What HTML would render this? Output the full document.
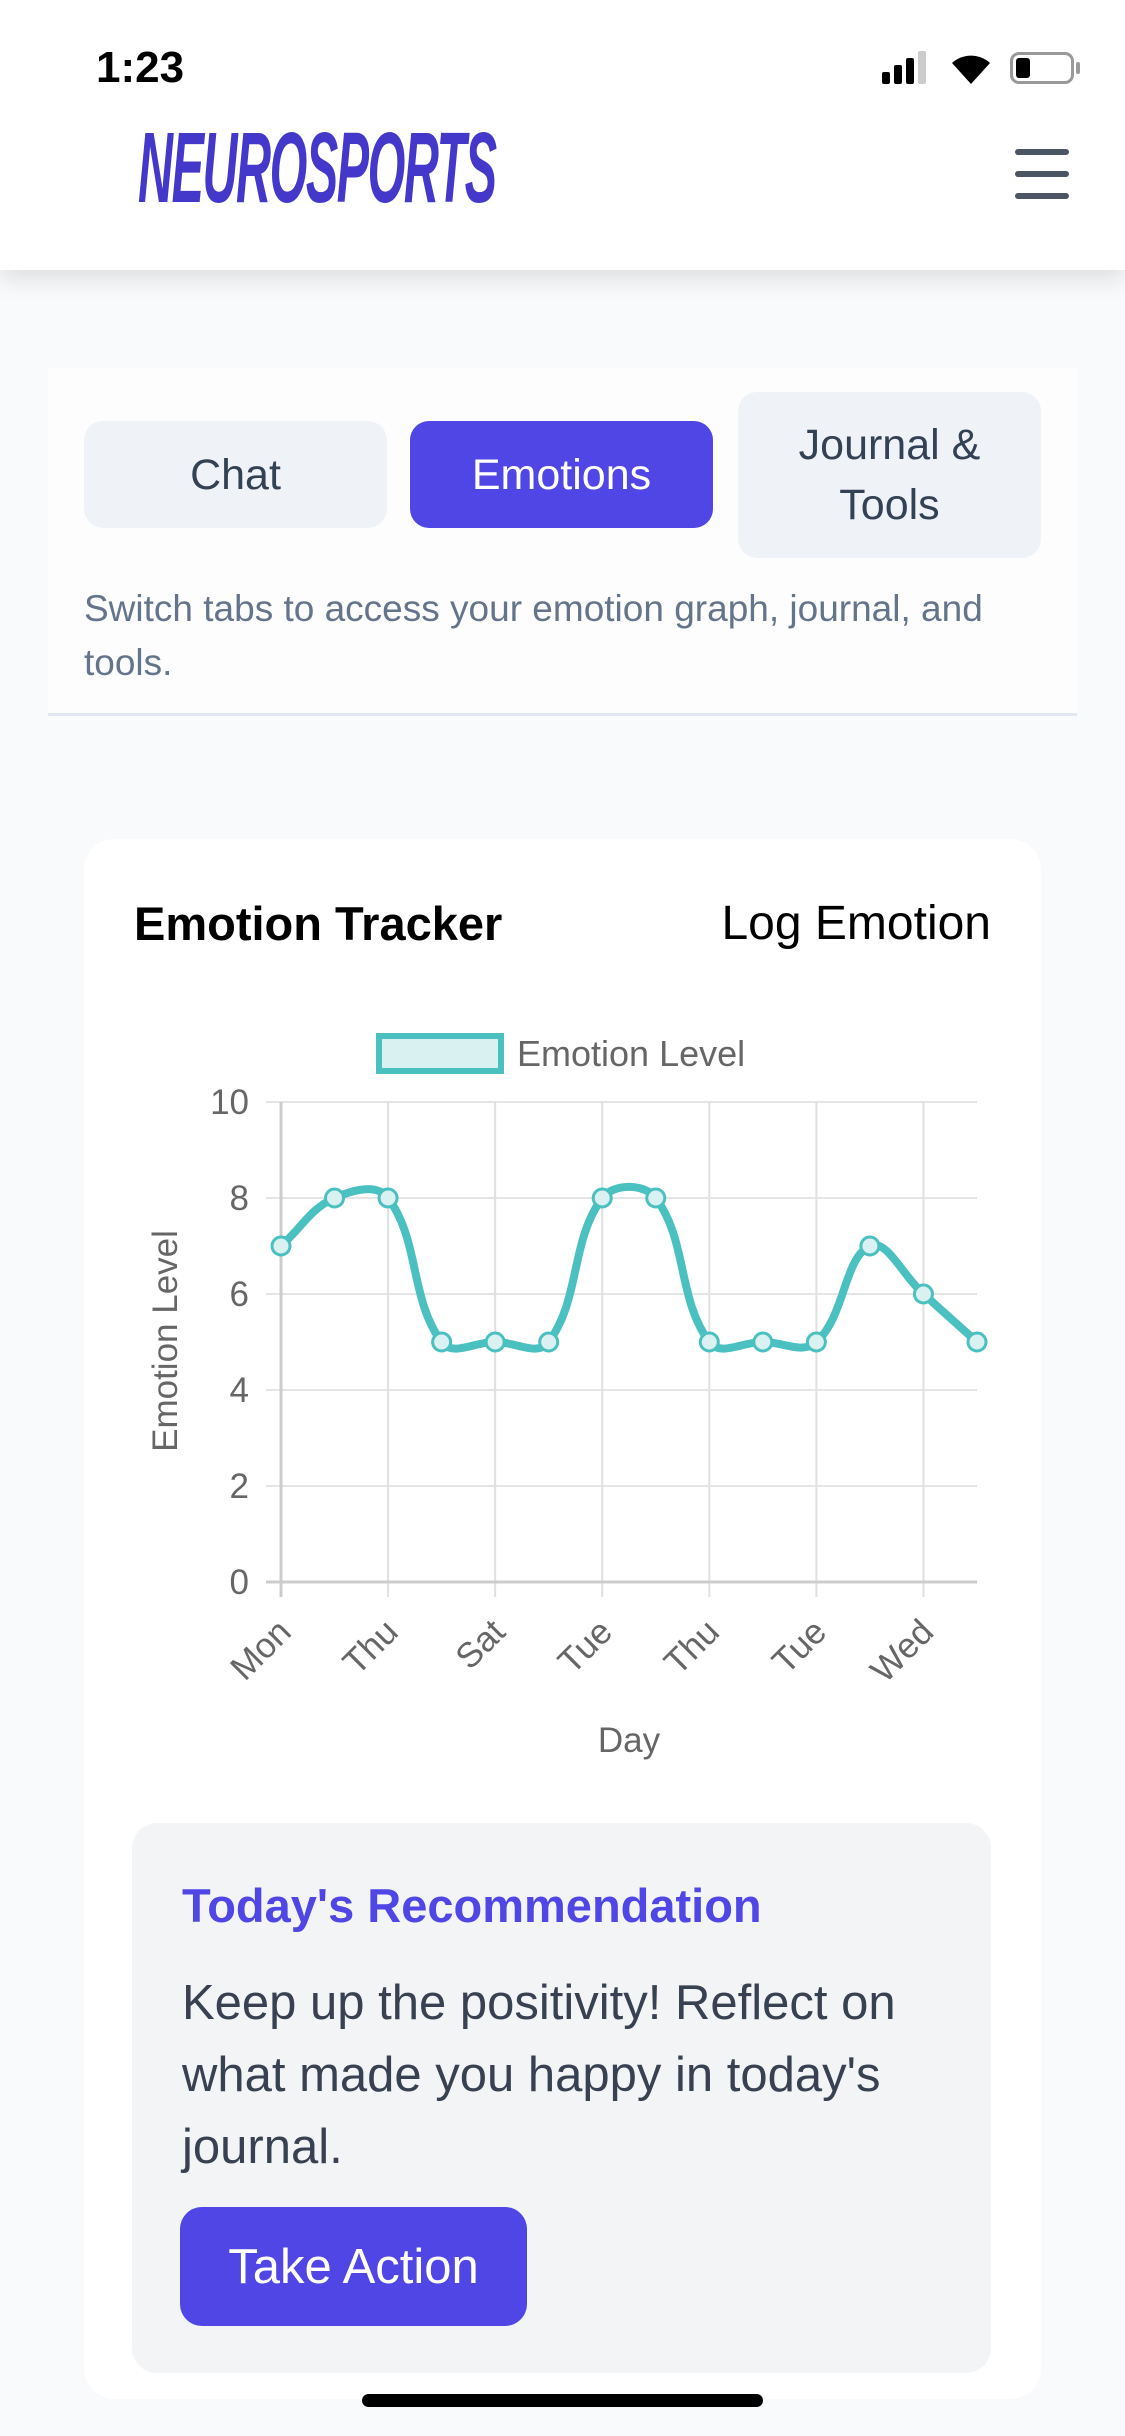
<!DOCTYPE html>
<html><head><meta charset="utf-8">
<style>
*{margin:0;padding:0;box-sizing:border-box}
body{width:1125px;height:2436px;background:#f8fafc;font-family:"Liberation Sans",sans-serif;position:relative;overflow:hidden}
.a{position:absolute}
.btn{position:absolute;border-radius:19px;display:flex;align-items:center;justify-content:center;text-align:center;font-size:43px;color:#334155;background:#eff3f8;line-height:60px}
</style></head><body>
<div class="a" style="left:0;top:0;width:1125px;height:270px;background:#fff;box-shadow:0 8px 24px rgba(0,0,0,0.12)"></div>
<div class="a" style="left:96px;top:43px;font-size:44px;font-weight:bold;color:#000">1:23</div>
<div class="a" style="left:882px;top:72px;width:8px;height:12px;background:#000;border-radius:2px"></div>
<div class="a" style="left:894px;top:65px;width:8px;height:19px;background:#000;border-radius:2px"></div>
<div class="a" style="left:906px;top:58px;width:8px;height:26px;background:#000;border-radius:2px"></div>
<div class="a" style="left:918px;top:51px;width:8px;height:33px;background:#ccc;border-radius:2px"></div>
<svg class="a" style="left:950px;top:50px" width="42" height="36" viewBox="0 0 42 36"><path d="M21 34 L2 13 A28 28 0 0 1 40 13 Z" fill="#000"/></svg>
<div class="a" style="left:1010px;top:52px;width:64px;height:32px;border:3px solid #999;border-radius:9px"></div>
<div class="a" style="left:1016px;top:58px;width:14px;height:20px;background:#000;border-radius:3px"></div>
<div class="a" style="left:1076px;top:62px;width:4px;height:12px;background:#999;border-radius:2px"></div>
<div class="a" style="left:138px;top:118px;font-size:100px;font-weight:bold;font-style:italic;color:#4338ca;transform:scaleX(0.485);transform-origin:0 0;letter-spacing:-3px;line-height:100px">NEUROSPORTS</div>
<div class="a" style="left:1015px;top:149px;width:54px;height:6px;background:#4b5563;border-radius:3px"></div>
<div class="a" style="left:1015px;top:171px;width:54px;height:6px;background:#4b5563;border-radius:3px"></div>
<div class="a" style="left:1015px;top:193px;width:54px;height:6px;background:#4b5563;border-radius:3px"></div>

<div class="a" style="left:48px;top:368px;width:1029px;height:348px;background:#fdfdfe;border-bottom:3px solid #e2e8f0"></div>
<div class="btn" style="left:84px;top:421px;width:303px;height:107px">Chat</div>
<div class="btn" style="left:410px;top:421px;width:303px;height:107px;background:#4f46e5;color:#fff">Emotions</div>
<div class="btn" style="left:738px;top:392px;width:303px;height:166px">Journal &amp;<br>Tools</div>
<div class="a" style="left:84px;top:582px;width:960px;font-size:37px;line-height:54px;color:#64748b">Switch tabs to access your emotion graph, journal, and tools.</div>

<div class="a" style="left:84px;top:839px;width:957px;height:1560px;background:#fff;border-radius:31px"></div>
<div class="a" style="left:134px;top:896px;font-size:47px;font-weight:bold;color:#000">Emotion Tracker</div>
<div class="a" style="right:134px;top:896px;font-size:48px;color:#000">Log Emotion</div>

<svg class="a" style="left:0;top:0" width="1125" height="1800" id="ch">
<g stroke="#e5e5e5" stroke-width="2">
<line x1="266" y1="1102" x2="977" y2="1102"/><line x1="266" y1="1198" x2="977" y2="1198"/>
<line x1="266" y1="1294" x2="977" y2="1294"/><line x1="266" y1="1390" x2="977" y2="1390"/>
<line x1="266" y1="1486" x2="977" y2="1486"/>
</g>
<g stroke="#e0e0e0" stroke-width="2" id="vg"></g>
<line x1="266" y1="1582" x2="977" y2="1582" stroke="#ccc" stroke-width="3"/>
<line x1="281" y1="1102" x2="281" y2="1597" stroke="#ccc" stroke-width="3"/>
<g font-size="35" fill="#666" text-anchor="end">
<text x="249" y="1114">10</text><text x="249" y="1210">8</text><text x="249" y="1306">6</text>
<text x="249" y="1402">4</text><text x="249" y="1498">2</text><text x="249" y="1594">0</text>
</g>
<text transform="translate(177,1341) rotate(-90)" font-size="35" fill="#666" text-anchor="middle">Emotion Level</text>
<g font-size="35" fill="#666" text-anchor="end" id="xl"></g>
<text x="629" y="1752" font-size="35" fill="#666" text-anchor="middle">Day</text>
<rect x="379" y="1036" width="122" height="35" fill="#d9f1f1" stroke="#4bc0c0" stroke-width="6"/>
<text x="517" y="1066" font-size="36" fill="#666">Emotion Level</text>
<path id="ln" fill="none" stroke="#4bc0c0" stroke-width="8"/>
<g id="pts" fill="#d9f1f1" stroke="#4bc0c0" stroke-width="3"></g>
</svg>

<div class="a" style="left:132px;top:1823px;width:859px;height:550px;background:#f3f4f6;border-radius:25px"></div>
<div class="a" style="left:182px;top:1878px;font-size:47px;font-weight:bold;color:#4f46e5">Today's Recommendation</div>
<div class="a" style="left:182px;top:1967px;width:780px;font-size:49px;line-height:72px;color:#374151">Keep up the positivity! Reflect on what made you happy in today's journal.</div>
<div class="a" style="left:180px;top:2207px;width:347px;height:119px;background:#4f46e5;border-radius:22px;color:#fff;font-size:49px;display:flex;align-items:center;justify-content:center">Take Action</div>
<div class="a" style="left:362px;top:2394px;width:401px;height:13px;background:#000;border-radius:7px"></div>

<script>
var v=[7,8,8,5,5,5,8,8,5,5,5,7,6,5];
var X0=281,X1=977,Y0=1582,U=48;
var P=v.map(function(y,i){return [X0+i*((X1-X0)/13),Y0-U*y]});
var ns="http://www.w3.org/2000/svg";
var vg=document.getElementById('vg'),xl=document.getElementById('xl'),pts=document.getElementById('pts');
var labs=["Mon","Thu","Sat","Tue","Thu","Tue","Wed"];
for(var k=0;k<7;k++){var x=X0+2*k*((X1-X0)/13);
 if(k>0){var l=document.createElementNS(ns,'line');l.setAttribute('x1',x);l.setAttribute('x2',x);l.setAttribute('y1',1102);l.setAttribute('y2',1597);vg.appendChild(l);}
 var t=document.createElementNS(ns,'text');t.setAttribute('transform','translate('+(x+12)+',1634) rotate(-45)');t.textContent=labs[k];xl.appendChild(t);}
var cps=[];var T=0.4;
for(var i=0;i<P.length;i++){var p=P[Math.max(i-1,0)],c=P[i],n=P[Math.min(i+1,P.length-1)];
 var d01=Math.hypot(c[0]-p[0],c[1]-p[1]),d12=Math.hypot(n[0]-c[0],n[1]-c[1]);
 var s01=d01/(d01+d12)||0,s12=d12/(d01+d12)||0;var fa=T*s01,fb=T*s12;
 cps.push([[c[0]-fa*(n[0]-p[0]),c[1]-fa*(n[1]-p[1])],[c[0]+fb*(n[0]-p[0]),c[1]+fb*(n[1]-p[1])]]);}
var d="M"+P[0][0]+","+P[0][1];
for(var i=1;i<P.length;i++){d+=" C"+cps[i-1][1][0]+","+cps[i-1][1][1]+" "+cps[i][0][0]+","+cps[i][0][1]+" "+P[i][0]+","+P[i][1];}
document.getElementById('ln').setAttribute('d',d);
P.forEach(function(q){var c=document.createElementNS(ns,'circle');c.setAttribute('cx',q[0]);c.setAttribute('cy',q[1]);c.setAttribute('r',9);pts.appendChild(c);});
</script>
</body></html>
